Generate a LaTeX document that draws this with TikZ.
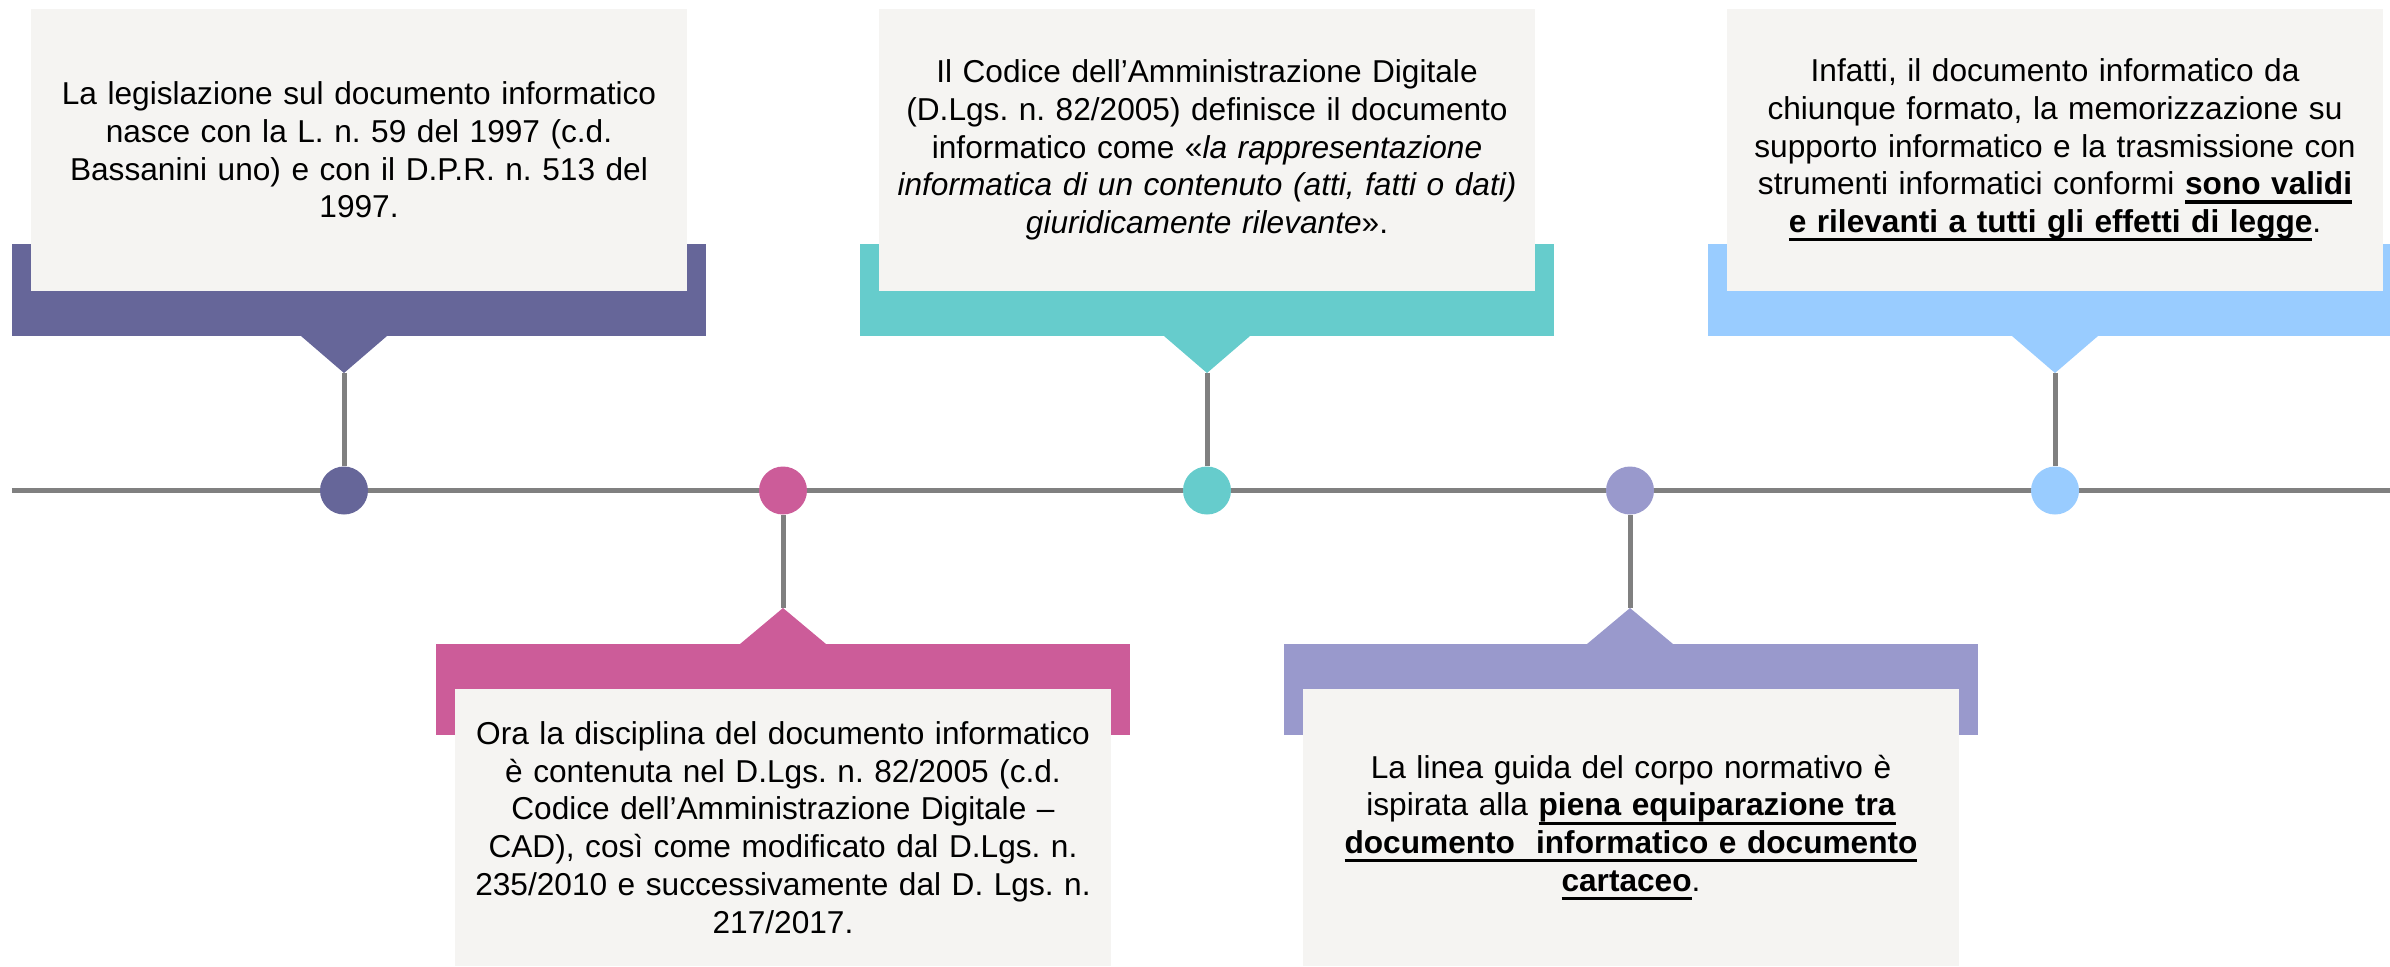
\documentclass[tikz,border=0pt]{standalone}
\usepackage{fontspec}
\setmainfont{Liberation Sans}
\frenchspacing

\newsavebox\ulbox
\newcommand\ulline[1]{\leavevmode\sbox\ulbox{#1}\rlap{\rule[-2.5pt]{\wd\ulbox}{0.9pt}}\usebox\ulbox}

\definecolor{evpurple}{RGB}{102,102,153}
\definecolor{evpink}{RGB}{204,92,153}
\definecolor{evteal}{RGB}{102,204,204}
\definecolor{evlavender}{RGB}{153,153,204}
\definecolor{evsky}{RGB}{153,204,255}
\definecolor{boxgray}{RGB}{245,244,242}
\definecolor{linegray}{RGB}{128,128,128}

\tikzset{
  infobox/.style={fill=boxgray,inner sep=0pt,align=center,text width=6.56cm,
    font=\fontsize{9.0}{10.75}\selectfont},
  eventdot/.style={circle,inner sep=0pt,minimum size=0.48cm},
  stemline/.style={draw=linegray,line width=0.05cm},
}

\begin{document}
\begin{tikzpicture}
        \useasboundingbox (0,0) rectangle (23.9,-9.66);

        % time line
        \coordinate (start) at (0.12,-4.905);
        \coordinate (end) at (23.9,-4.905);
        \draw[stemline] (start) -- (end);

        \node[eventdot,fill=evpurple] (dot1) at (3.44,-4.905) {};
        \node[eventdot,fill=evpink] (dot2) at (7.83,-4.905) {};
        \node[eventdot,fill=evteal] (dot3) at (12.07,-4.905) {};
        \node[eventdot,fill=evlavender] (dot4) at (16.30,-4.905) {};
        \node[eventdot,fill=evsky] (dot5) at (20.55,-4.905) {};

        \coordinate (tip1) at (3.44,-3.73);
        \coordinate (tip2) at (7.83,-6.08);
        \coordinate (tip3) at (12.07,-3.73);
        \coordinate (tip4) at (16.30,-6.08);
        \coordinate (tip5) at (20.55,-3.73);

        \foreach \i in {1,...,5} {
          \draw[stemline] (dot\i) -- (tip\i);
        }

        % banners above the line
        \foreach \x/\c/\col in {0.12/3.44/evpurple,8.60/12.07/evteal,17.08/20.55/evsky} {
          \fill[\col] (\x,-2.44) rectangle ++(6.94,-0.92);
          \fill[\col] (\c-0.43,-3.36) -- ++(0.86,0) -- (\c,-3.73) -- cycle;
        }

        % banners below the line
        \foreach \x/\c/\col in {4.36/7.83/evpink,12.84/16.30/evlavender} {
          \fill[\col] (\x,-6.44) rectangle ++(6.94,-0.91);
          \fill[\col] (\c-0.43,-6.44) -- ++(0.86,0) -- (\c,-6.08) -- cycle;
        }

        \node[infobox,minimum height=2.82cm] (box1) at (3.59,-1.50)
          {La legislazione sul documento informatico\\
           nasce con la L. n. 59 del 1997 (c.d.\\
           Bassanini uno) e con il D.P.R. n. 513 del\\
           1997.};
        \node[infobox,minimum height=2.77cm] (box2) at (7.83,-8.275)
          {Ora la disciplina del documento informatico\\
           è contenuta nel D.Lgs. n. 82/2005 (c.d.\\
           Codice dell’Amministrazione Digitale –\\
           CAD), così come modificato dal D.Lgs. n.\\
           235/2010 e successivamente dal D. Lgs. n.\\
           217/2017.};
        \node[infobox,minimum height=2.82cm] (box3) at (12.07,-1.50)
          {Il Codice dell’Amministrazione Digitale\\
           (D.Lgs. n. 82/2005) definisce il documento\\
           informatico come «\textit{la rappresentazione}\\
           \textit{informatica di un contenuto (atti, fatti o dati)}\\
           \textit{giuridicamente rilevante}».};
        \node[infobox,minimum height=2.77cm] (box4) at (16.31,-8.275)
          {La linea guida del corpo normativo è\\
           ispirata alla \ulline{\textbf{piena equiparazione tra}}\\
           \ulline{\textbf{documento~ informatico e documento}}\\
           \ulline{\textbf{cartaceo}}.};
        \node[infobox,minimum height=2.82cm] (box5) at (20.55,-1.50)
          {Infatti, il documento informatico da\\
           chiunque formato, la memorizzazione su\\
           supporto informatico e la trasmissione con\\
           strumenti informatici conformi \ulline{\textbf{sono validi}}\\
           \ulline{\textbf{e rilevanti a tutti gli effetti di legge}}.};
      \end{tikzpicture}
\end{document}
